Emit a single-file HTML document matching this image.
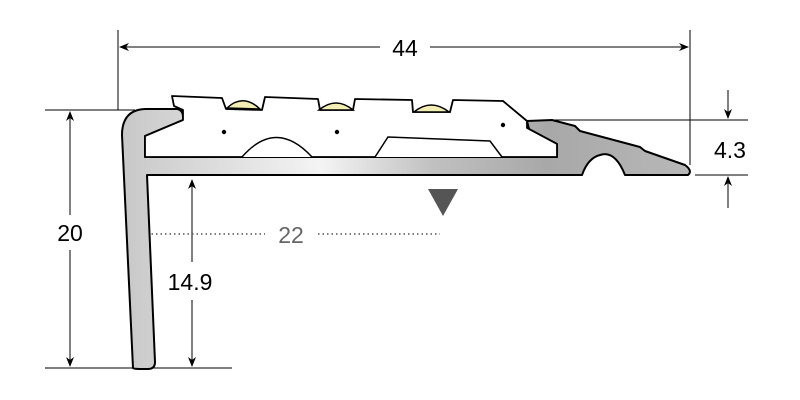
<!DOCTYPE html>
<html><head><style>body{margin:0;background:#fff}svg{display:block}</style></head><body>
<svg width="800" height="400" viewBox="0 0 800 400" xmlns="http://www.w3.org/2000/svg" font-family="Liberation Sans, sans-serif">
<defs>
<linearGradient id="g" x1="0" y1="0" x2="1" y2="0">
<stop offset="0" stop-color="#c8c8c8"/><stop offset="0.35" stop-color="#f4f4f4"/><stop offset="0.55" stop-color="#c0c0c0"/><stop offset="0.75" stop-color="#a8a8a8"/><stop offset="1" stop-color="#b8b8b8"/>
</linearGradient>
<marker id="a" markerWidth="10" markerHeight="8" refX="9" refY="4" orient="auto" markerUnits="userSpaceOnUse"><path d="M0,0 L10,4 L0,8 L3,4 z" fill="#000"/></marker>
</defs>
<g stroke="#000" stroke-width="1" fill="none">
<line x1="118" y1="30" x2="118" y2="110"/><line x1="690" y1="30" x2="690" y2="165"/>
<line x1="380" y1="47" x2="120" y2="47" marker-end="url(#a)"/>
<line x1="430" y1="47" x2="688" y2="47" marker-end="url(#a)"/>
<line x1="45" y1="110" x2="135" y2="110"/><line x1="45" y1="368" x2="232" y2="368"/>
<line x1="70" y1="215" x2="70" y2="112" marker-end="url(#a)"/>
<line x1="70" y1="250" x2="70" y2="366" marker-end="url(#a)"/>
<line x1="192" y1="262" x2="192" y2="180" marker-end="url(#a)"/>
<line x1="192" y1="300" x2="192" y2="366" marker-end="url(#a)"/>
<line x1="540" y1="120" x2="748" y2="120"/><line x1="695" y1="175" x2="748" y2="175"/>
<line x1="728" y1="90" x2="728" y2="118" marker-end="url(#a)"/>
<line x1="728" y1="208" x2="728" y2="177" marker-end="url(#a)"/>
</g>
<line x1="147" y1="234" x2="265" y2="234" stroke="#555" stroke-width="1.5" stroke-dasharray="1.5,3"/>
<line x1="318" y1="234" x2="440" y2="234" stroke="#555" stroke-width="1.5" stroke-dasharray="1.5,3"/>
<path d="M133,368 L122,135 Q122,110 145,109 L177,109 Q183,110 183,117 L183,120 L145,136 L145,157 L557,157 L557,144 L529,129 L527,121 L552,120 L575,126 L580,131 L640,147 L645,151 L685,165 Q693,171 688,175 L625,175 Q615,150 600,155 Q588,158 582,175 L147,175 L155,362 Q155,369 148,369 L140,369 Q133,369 133,368 Z" fill="url(#g)" stroke="#000" stroke-width="2" stroke-linejoin="round"/>
<path d="M145,157 L145,136 L183,120 L183,110 L174,106 L172,96 L222,98 L226,109 L262,110 L265,97 L318,99 L320,110 L353,110 L355,99 L412,100 L413,112 L450,112 L453,100 L503,101 L527,121 L527,128 L557,144 L557,157 Z" fill="#fff" stroke="#000" stroke-width="1.8" stroke-linejoin="round"/>
<g fill="#f3eeb4" stroke="#000" stroke-width="1.5">
<path d="M227,108 Q243,93 260,109 Z"/><path d="M319,110 Q336,96 353,110 Z"/><path d="M414,112 Q431,98 449,112 Z"/>
</g>
<path d="M242,157 Q276,118 312,157" fill="#fff" stroke="#000" stroke-width="1.5"/>
<path d="M375,157 L388,137 L490,141 L502,157" fill="#fff" stroke="#000" stroke-width="1.5"/>
<g fill="#000"><circle cx="224" cy="132" r="2.2"/><circle cx="337" cy="132" r="2.2"/><circle cx="503" cy="125" r="2.2"/></g>
<path d="M428,189 L458,189 L443,216 Z" fill="#555"/>
<g font-size="23" fill="#000" text-anchor="middle">
<text x="405" y="56">44</text>
<text x="70" y="241">20</text>
<text x="190" y="290">14.9</text>
<text x="730" y="158">4.3</text>
<text x="291" y="243" fill="#666">22</text>
</g>
</svg>
</body></html>
